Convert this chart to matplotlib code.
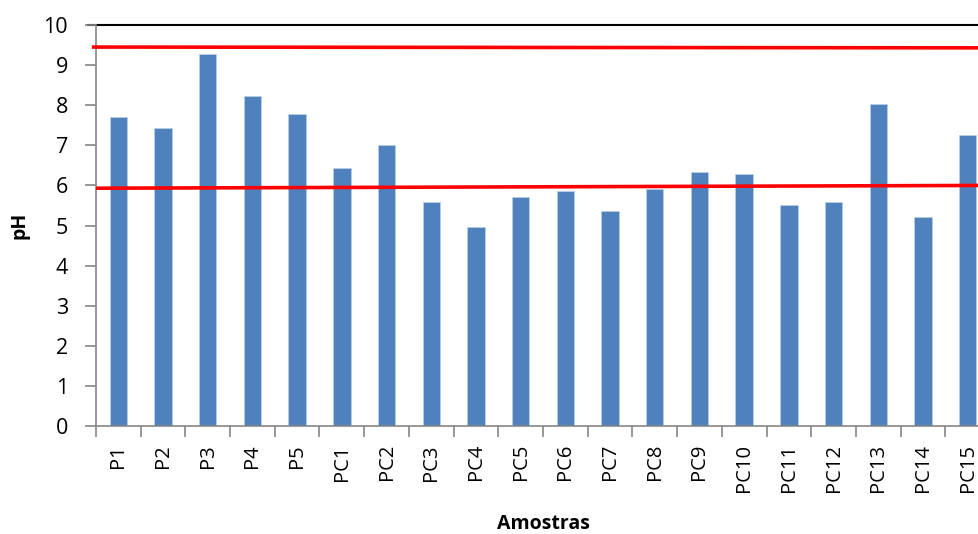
import matplotlib
matplotlib.use("Agg")
import matplotlib.pyplot as plt
import numpy as np

plt.rcParams['font.family'] = ['Open Sans', 'DejaVu Sans']

# pH per sample
amostras = ["P1", "P2", "P3", "P4", "P5",
            "PC1", "PC2", "PC3", "PC4", "PC5", "PC6", "PC7", "PC8",
            "PC9", "PC10", "PC11", "PC12", "PC13", "PC14", "PC15"]
ph = [7.71, 7.44, 9.27, 8.24, 7.77,
      6.43, 7.00, 5.58, 4.96, 5.70, 5.85, 5.36, 5.92,
      6.33, 6.29, 5.51, 5.59, 8.03, 5.21, 7.25]

# limit lines (start, end), slightly tilted as drawn by hand
lim_sup = [9.45, 9.43]
lim_inf = [5.93, 6.00]

fig = plt.figure(figsize=(9.79, 5.34), dpi=100)
ax = fig.add_axes([0.098, 0.2022, 0.9133, 0.751])

x = np.arange(len(amostras))
ax.bar(x, ph, width=0.39, color="#4F81BD", edgecolor="#B9CDE5", linewidth=0.6, zorder=2)

ax.plot([-0.55, 19.5], lim_sup, color="#FF0000", linewidth=2.6, zorder=3, clip_on=False)
ax.plot([-0.5, 19.5], lim_inf, color="#FF0000", linewidth=2.6, zorder=3)
ax.plot([-0.68, 19.5], [10, 10], color="black", linewidth=1.5, zorder=1, clip_on=False)

ax.set_xlim(-0.5, 19.5)
ax.set_ylim(0, 10)
ax.set_yticks(range(0, 11))
ax.set_xticks(x)
ax.set_xticklabels(amostras, rotation=90, fontsize=14.5)
ax.set_xticks(np.arange(-0.5, 20, 1), minor=True)
ax.tick_params(axis="x", which="major", length=0, pad=13)
ax.tick_params(axis="x", which="minor", length=8, color="#868686", width=1.2)
ax.tick_params(axis="y", length=8, color="#868686", width=1.2, labelsize=15.5, pad=12)

for side in ["top", "right"]:
    ax.spines[side].set_visible(False)
for side in ["left", "bottom"]:
    ax.spines[side].set_color("#868686")
    ax.spines[side].set_linewidth(1.2)

ax.set_ylabel("pH", fontsize=14, fontweight="bold", labelpad=10)
ax.set_xlabel("Amostras", fontsize=14, fontweight="bold", labelpad=16)

fig.savefig("out.png", dpi=100)
